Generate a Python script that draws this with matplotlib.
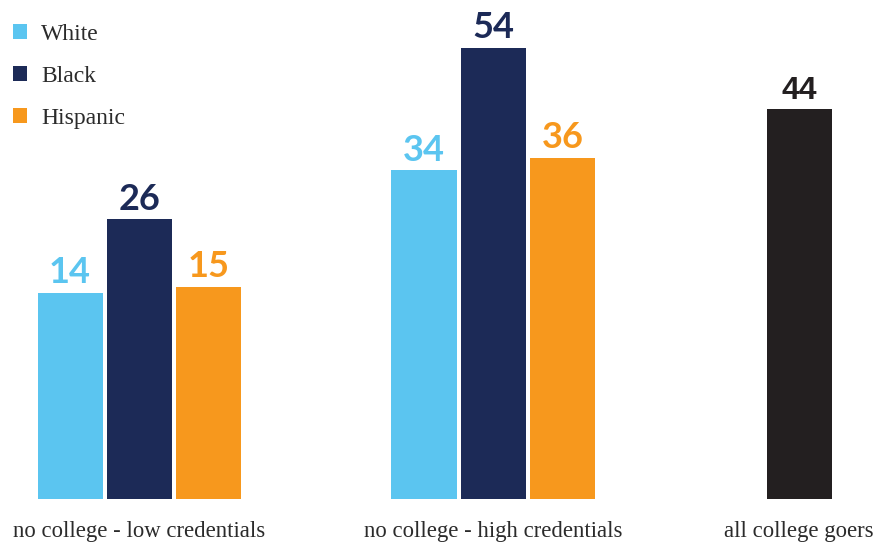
import numpy as np
import matplotlib.pyplot as plt
from matplotlib.patches import Patch

# === Data === #
groups = ["no college - low credentials", "no college - high credentials", "all college goers"]
races = ["White", "Black", "Hispanic"]
white = [14, 34]
black = [26, 54]
hispanic = [15, 36]
all_college = [44]

colors = {"White": "#5bc5f0", "Black": "#1c2a57", "Hispanic": "#f7981d"}
dark = "#231f20"

# group centres (third group sits closer) and bar geometry
centers = np.array([0.0, 1.0, 1.864])
width = 0.184
step = 0.196
base = -19.6  # bars start from here, the chart's axis is not at zero

fig = plt.figure(figsize=(8.75, 5.46), dpi=100)
ax = fig.add_axes([0, 0, 1, 1])
ax.set_xlim(-0.394, 2.078)
ax.set_ylim(-27.3, 61.8)
ax.axis("off")

num_font = dict(family="Lato", fontweight="bold", fontsize=26)

for i, (name, vals) in enumerate(zip(races, [white, black, hispanic])):
    xs = centers[:2] + (i - 1) * step
    v = np.array(vals)
    ax.bar(xs, v - base, bottom=base, width=width, color=colors[name])
    for x, val in zip(xs, vals):
        ax.text(x, val + 1.6, str(val), ha="center", va="baseline",
                color=colors[name], **num_font)

# all college goers
ax.bar(centers[2], all_college[0] - base, bottom=base, width=width, color=dark)
ax.text(centers[2], all_college[0] + 1.6, str(all_college[0]), ha="center", va="baseline",
        color=dark, family="Liberation Sans", fontweight="bold", fontsize=23)

# category labels
for c, g in zip(centers, groups):
    ax.text(c, -24.9, g, ha="center", va="center", family="Liberation Serif",
            fontsize=16.4, color="#2b2b2b")

# legend
handles = [Patch(facecolor=colors[r], label=r) for r in races]
ax.legend(handles=handles, loc="upper left", bbox_to_anchor=(0.004, 0.973),
          frameon=False, prop=dict(family="Liberation Serif", size=17),
          handlelength=0.6, handleheight=0.6, handletextpad=0.6,
          labelspacing=0.89, borderaxespad=0.0, labelcolor="#2b2b2b")

fig.savefig("out.png", dpi=100)
